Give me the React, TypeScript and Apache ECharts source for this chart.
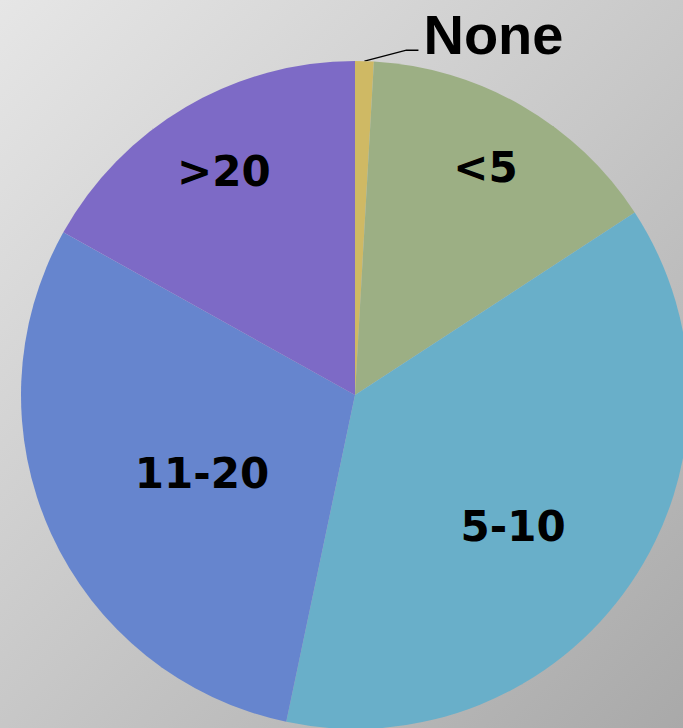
import React, { useEffect, useRef } from "react";
import * as echarts from "echarts";

const categories = ["None", "<5", "5-10", "11-20", ">20"];
const values = [0.9, 14.9, 37.5, 29.8, 16.9];
const colors = ["#CFB964", "#9CAF84", "#69AFC9", "#6685CE", "#7D6AC6"];

// radial placement of inside labels (fraction of radius) and small nudges
const labelRadial = [0, 0.78, 0.61, 0.51, 0.775];
const labelNudge = [
  [0, 0],
  [0, -2],
  [-10, 16],
  [2, 8],
  [0, 0],
];

const CX = 355;
const CY = 395;
const R = 334;

export default function App() {
  const ref = useRef<HTMLDivElement>(null);
  useEffect(() => {
    if (!ref.current) return;
    const chart = echarts.init(ref.current, null, { renderer: "svg" });
    const total = values.reduce((a, b) => a + b, 0);
    const mids: number[] = [];
    let acc = 0;
    values.forEach((v) => {
      mids.push(((acc + v / 2) / total) * 2 * Math.PI);
      acc += v;
    });
    chart.setOption({
      animation: false,
      series: [
        {
          type: "pie",
          center: [CX, CY],
          radius: R,
          startAngle: 90,
          clockwise: true,
          avoidLabelOverlap: false,
          itemStyle: { borderWidth: 0 },
          label: {
            show: true,
            position: "inside",
            formatter: "{b}",
            color: "#000",
            fontFamily: "DejaVu Sans",
            fontWeight: "bold",
            fontSize: 42,
          },
          labelLayout: (params: any) => {
            const i = params.dataIndex;
            if (i === 0) {
              const p0 = [CX + R * Math.sin(mids[0]), CY - R * Math.cos(mids[0])];
              const p1 = [p0[0] + 42, p0[1] - 11];
              const p2 = [p1[0] + 12, p1[1]];
              return {
                x: p2[0] + 5,
                y: p2[1] - 16,
                align: "left",
                verticalAlign: "middle",
                labelLinePoints: [p0, p1, p2],
              };
            }
            const f = labelRadial[i];
            return {
              x: CX + f * R * Math.sin(mids[i]) + labelNudge[i][0],
              y: CY - f * R * Math.cos(mids[i]) + labelNudge[i][1],
              align: "center",
              verticalAlign: "middle",
            };
          },
          data: categories.map((c, i) => ({
            name: c,
            value: values[i],
            itemStyle: { color: colors[i] },
            ...(i === 0
              ? {
                  label: {
                    position: "outside",
                    fontFamily: "Liberation Sans",
                    fontWeight: "bold",
                    fontSize: 56,
                    lineHeight: 44,
                  },
                  labelLine: {
                    show: true,
                    length: 10,
                    length2: 20,
                    smooth: false,
                    lineStyle: { color: "#000", width: 1.5 },
                  },
                }
              : {}),
          })),
        },
      ],
    });
    return () => chart.dispose();
  }, []);
  return (
    <div
      ref={ref}
      style={{
        position: "absolute",
        left: 0,
        top: 0,
        width: 683,
        height: 728,
        background: "linear-gradient(135deg, #e6e6e6 0%, #c8c8c8 50%, #a9a9a9 100%)",
      }}
    />
  );
}
